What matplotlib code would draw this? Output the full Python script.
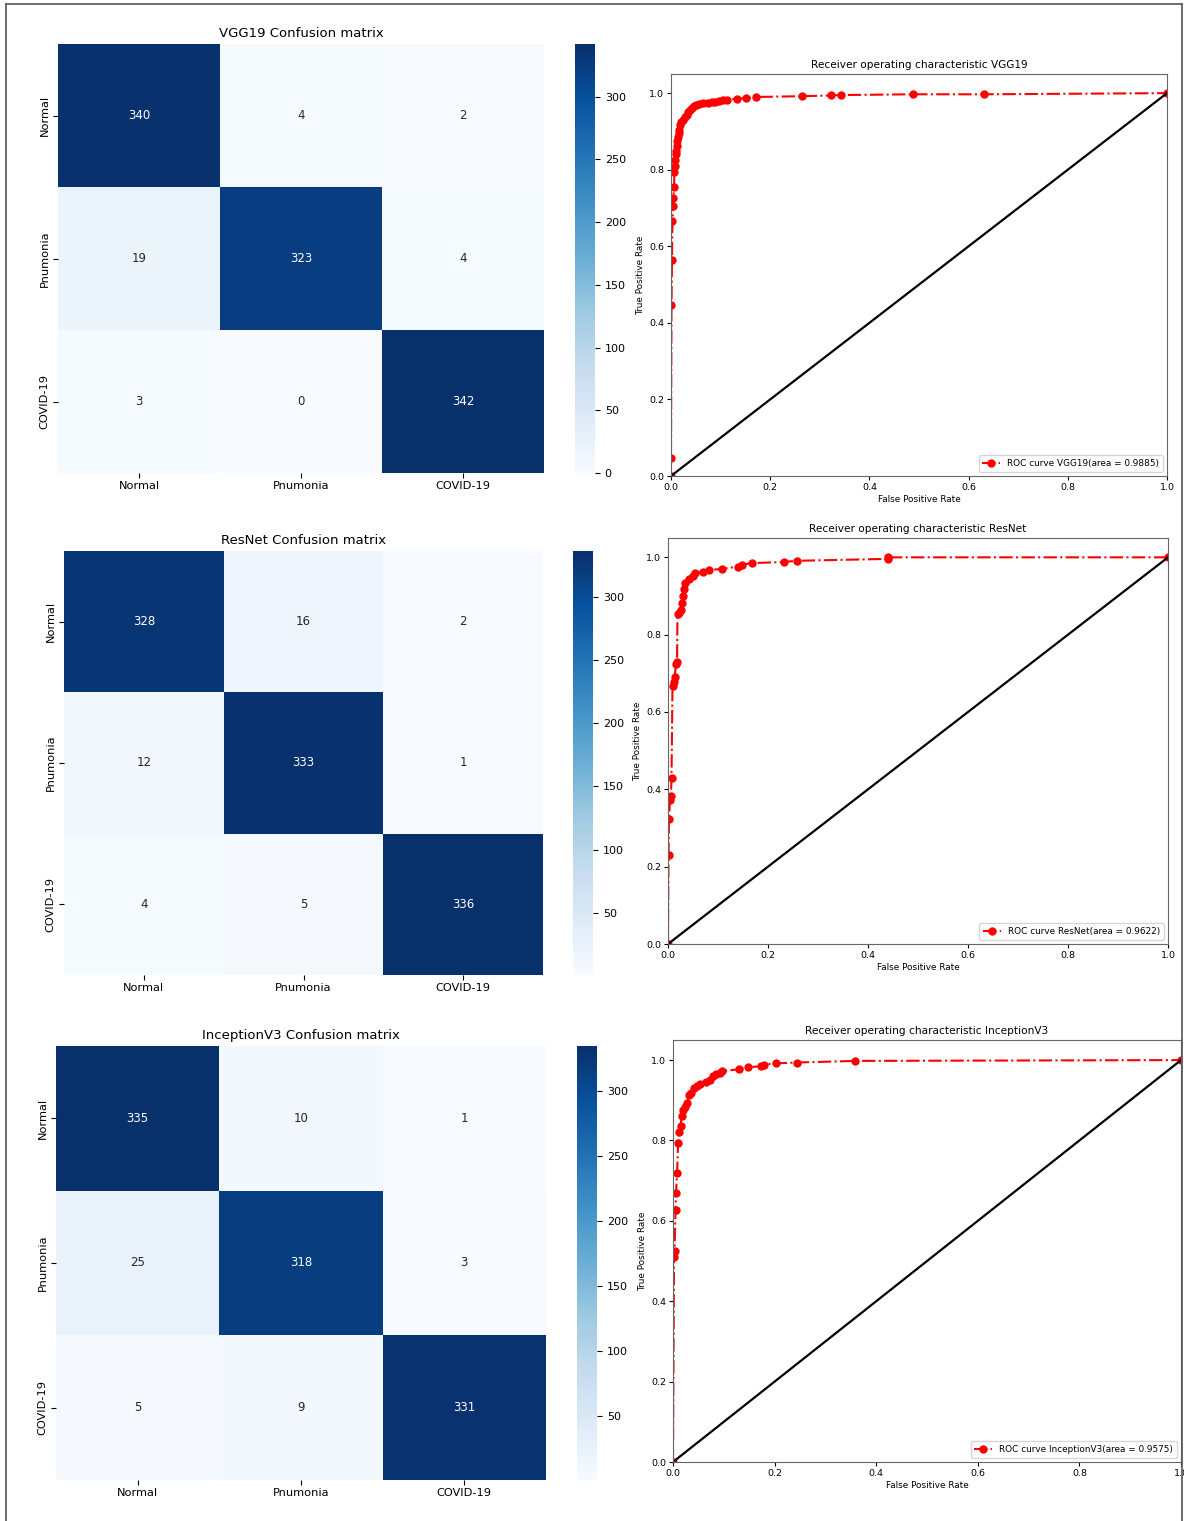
import numpy as np
import matplotlib
matplotlib.use("Agg")
import matplotlib.pyplot as plt
import seaborn as sns
from matplotlib.lines import Line2D

labels = ['Normal', 'Pnumonia', 'COVID-19']

cm_vgg = [[340, 4, 2], [19, 323, 4], [3, 0, 342]]
cm_resnet = [[328, 16, 2], [12, 333, 1], [4, 5, 336]]
cm_incep = [[335, 10, 1], [25, 318, 3], [5, 9, 331]]

fpr_vgg = [0.0, 0.0, 0.001, 0.002, 0.003, 0.004, 0.005, 0.006, 0.007, 0.008, 0.009, 0.010, 0.011,
           0.012, 0.013, 0.014, 0.016, 0.017, 0.019, 0.021, 0.025, 0.028, 0.032, 0.035, 0.039,
           0.042, 0.046, 0.050, 0.057, 0.065, 0.075, 0.082, 0.089, 0.097, 0.104, 0.112, 0.134,
           0.151, 0.171, 0.264, 0.323, 0.343, 0.487, 0.632, 1.0]
tpr_vgg = [0.0, 0.048, 0.447, 0.565, 0.666, 0.704, 0.727, 0.756, 0.794, 0.810, 0.826, 0.840, 0.850,
           0.861, 0.875, 0.885, 0.896, 0.905, 0.918, 0.925, 0.931, 0.937, 0.944, 0.950, 0.957,
           0.962, 0.966, 0.969, 0.972, 0.973, 0.975, 0.976, 0.977, 0.980, 0.982, 0.983, 0.985,
           0.987, 0.990, 0.992, 0.994, 0.995, 0.997, 0.997, 1.0]

fpr_resnet = [0.0, 0.001, 0.002, 0.004, 0.006, 0.007, 0.009, 0.011, 0.013, 0.016, 0.018, 0.019,
              0.022, 0.025, 0.027, 0.029, 0.031, 0.034, 0.041, 0.050, 0.053, 0.069, 0.081, 0.107,
              0.139, 0.147, 0.168, 0.231, 0.257, 0.439, 0.440, 1.0]
tpr_resnet = [0.0, 0.230, 0.323, 0.373, 0.382, 0.430, 0.668, 0.677, 0.690, 0.723, 0.729, 0.853,
              0.857, 0.865, 0.883, 0.900, 0.917, 0.934, 0.943, 0.951, 0.960, 0.962, 0.967, 0.970,
              0.976, 0.981, 0.985, 0.988, 0.991, 0.996, 1.0, 1.0]

fpr_incep = [0.0, 0.002, 0.003, 0.005, 0.006, 0.008, 0.010, 0.012, 0.015, 0.017, 0.020, 0.024,
             0.028, 0.031, 0.036, 0.041, 0.047, 0.054, 0.064, 0.073, 0.078, 0.085, 0.092, 0.097,
             0.129, 0.148, 0.174, 0.179, 0.203, 0.245, 0.359, 1.0]
tpr_incep = [0.0, 0.510, 0.525, 0.627, 0.670, 0.718, 0.793, 0.822, 0.836, 0.860, 0.876, 0.884,
             0.893, 0.913, 0.919, 0.930, 0.936, 0.940, 0.946, 0.950, 0.960, 0.965, 0.969, 0.973,
             0.977, 0.982, 0.985, 0.989, 0.992, 0.994, 0.998, 1.0]

W, H = 1184, 1521
fig = plt.figure(figsize=(W / 100, H / 100), dpi=100)


def box(x0, y0, x1, y1):
    # pixel box (top-left origin) -> figure fraction
    return [x0 / W, 1 - y1 / H, (x1 - x0) / W, (y1 - y0) / H]


def confusion(cm, name, hm_box, cb_box, ticks):
    ax = fig.add_axes(box(*hm_box))
    cax = fig.add_axes(box(*cb_box))
    sns.heatmap(np.array(cm), annot=True, fmt='d', cmap='Blues', ax=ax, cbar_ax=cax,
                xticklabels=labels, yticklabels=labels, annot_kws={'size': 8.5})
    ax.set_title(name + ' Confusion matrix', fontsize=9.5, pad=5)
    ax.tick_params(labelsize=8.2, pad=2.5)
    plt.setp(ax.get_yticklabels(), rotation=90, va='center')
    cax.set_yticks(ticks)
    cax.tick_params(labelsize=8)


def roc(fpr, tpr, name, auc, ax_box):
    ax = fig.add_axes(box(*ax_box))
    ax.plot(fpr, tpr, color='red', linestyle='-.', marker='o', markersize=5, lw=1.5,
            label='ROC curve ' + name + '(area = ' + auc + ')')
    ax.plot([0, 1], [0, 1], color='k', lw=1.6)
    ax.set_xlim([0.0, 1.0])
    ax.set_ylim([0.0, 1.05])
    ax.set_xlabel('False Positive Rate', fontsize=6.4, labelpad=2)
    ax.set_ylabel('True Positive Rate', fontsize=6.4, labelpad=3)
    ax.set_title('Receiver operating characteristic ' + name, fontsize=7.6, pad=4)
    ax.tick_params(labelsize=6.8, length=3, pad=2)
    for s in ax.spines.values():
        s.set_color('#666666')
    ax.legend(loc='lower right', fontsize=6.4)


confusion(cm_vgg, 'VGG19', (58, 44, 544, 473), (575, 44, 595, 473), [0, 50, 100, 150, 200, 250, 300])
confusion(cm_resnet, 'ResNet', (64, 551, 543, 975), (573, 551, 593, 975), [50, 100, 150, 200, 250, 300])
confusion(cm_incep, 'InceptionV3', (56, 1046, 546, 1480), (577, 1046, 597, 1480), [50, 100, 150, 200, 250, 300])

roc(fpr_vgg, tpr_vgg, 'VGG19', '0.9885', (671, 74, 1167, 476))
roc(fpr_resnet, tpr_resnet, 'ResNet', '0.9622', (668, 538, 1168, 944))
roc(fpr_incep, tpr_incep, 'InceptionV3', '0.9575', (673, 1040, 1181, 1462))

# outer frame (top, left, right)
fx0, fx1, fy0 = 6 / W, 1182 / W, 1 - 4 / H
for xs, ys in [([fx0, fx1], [fy0, fy0]), ([fx0, fx0], [fy0, 0]), ([fx1, fx1], [fy0, 0])]:
    fig.add_artist(Line2D(xs, ys, color='#555555', lw=1.2))

fig.savefig('out.png', dpi=100)
